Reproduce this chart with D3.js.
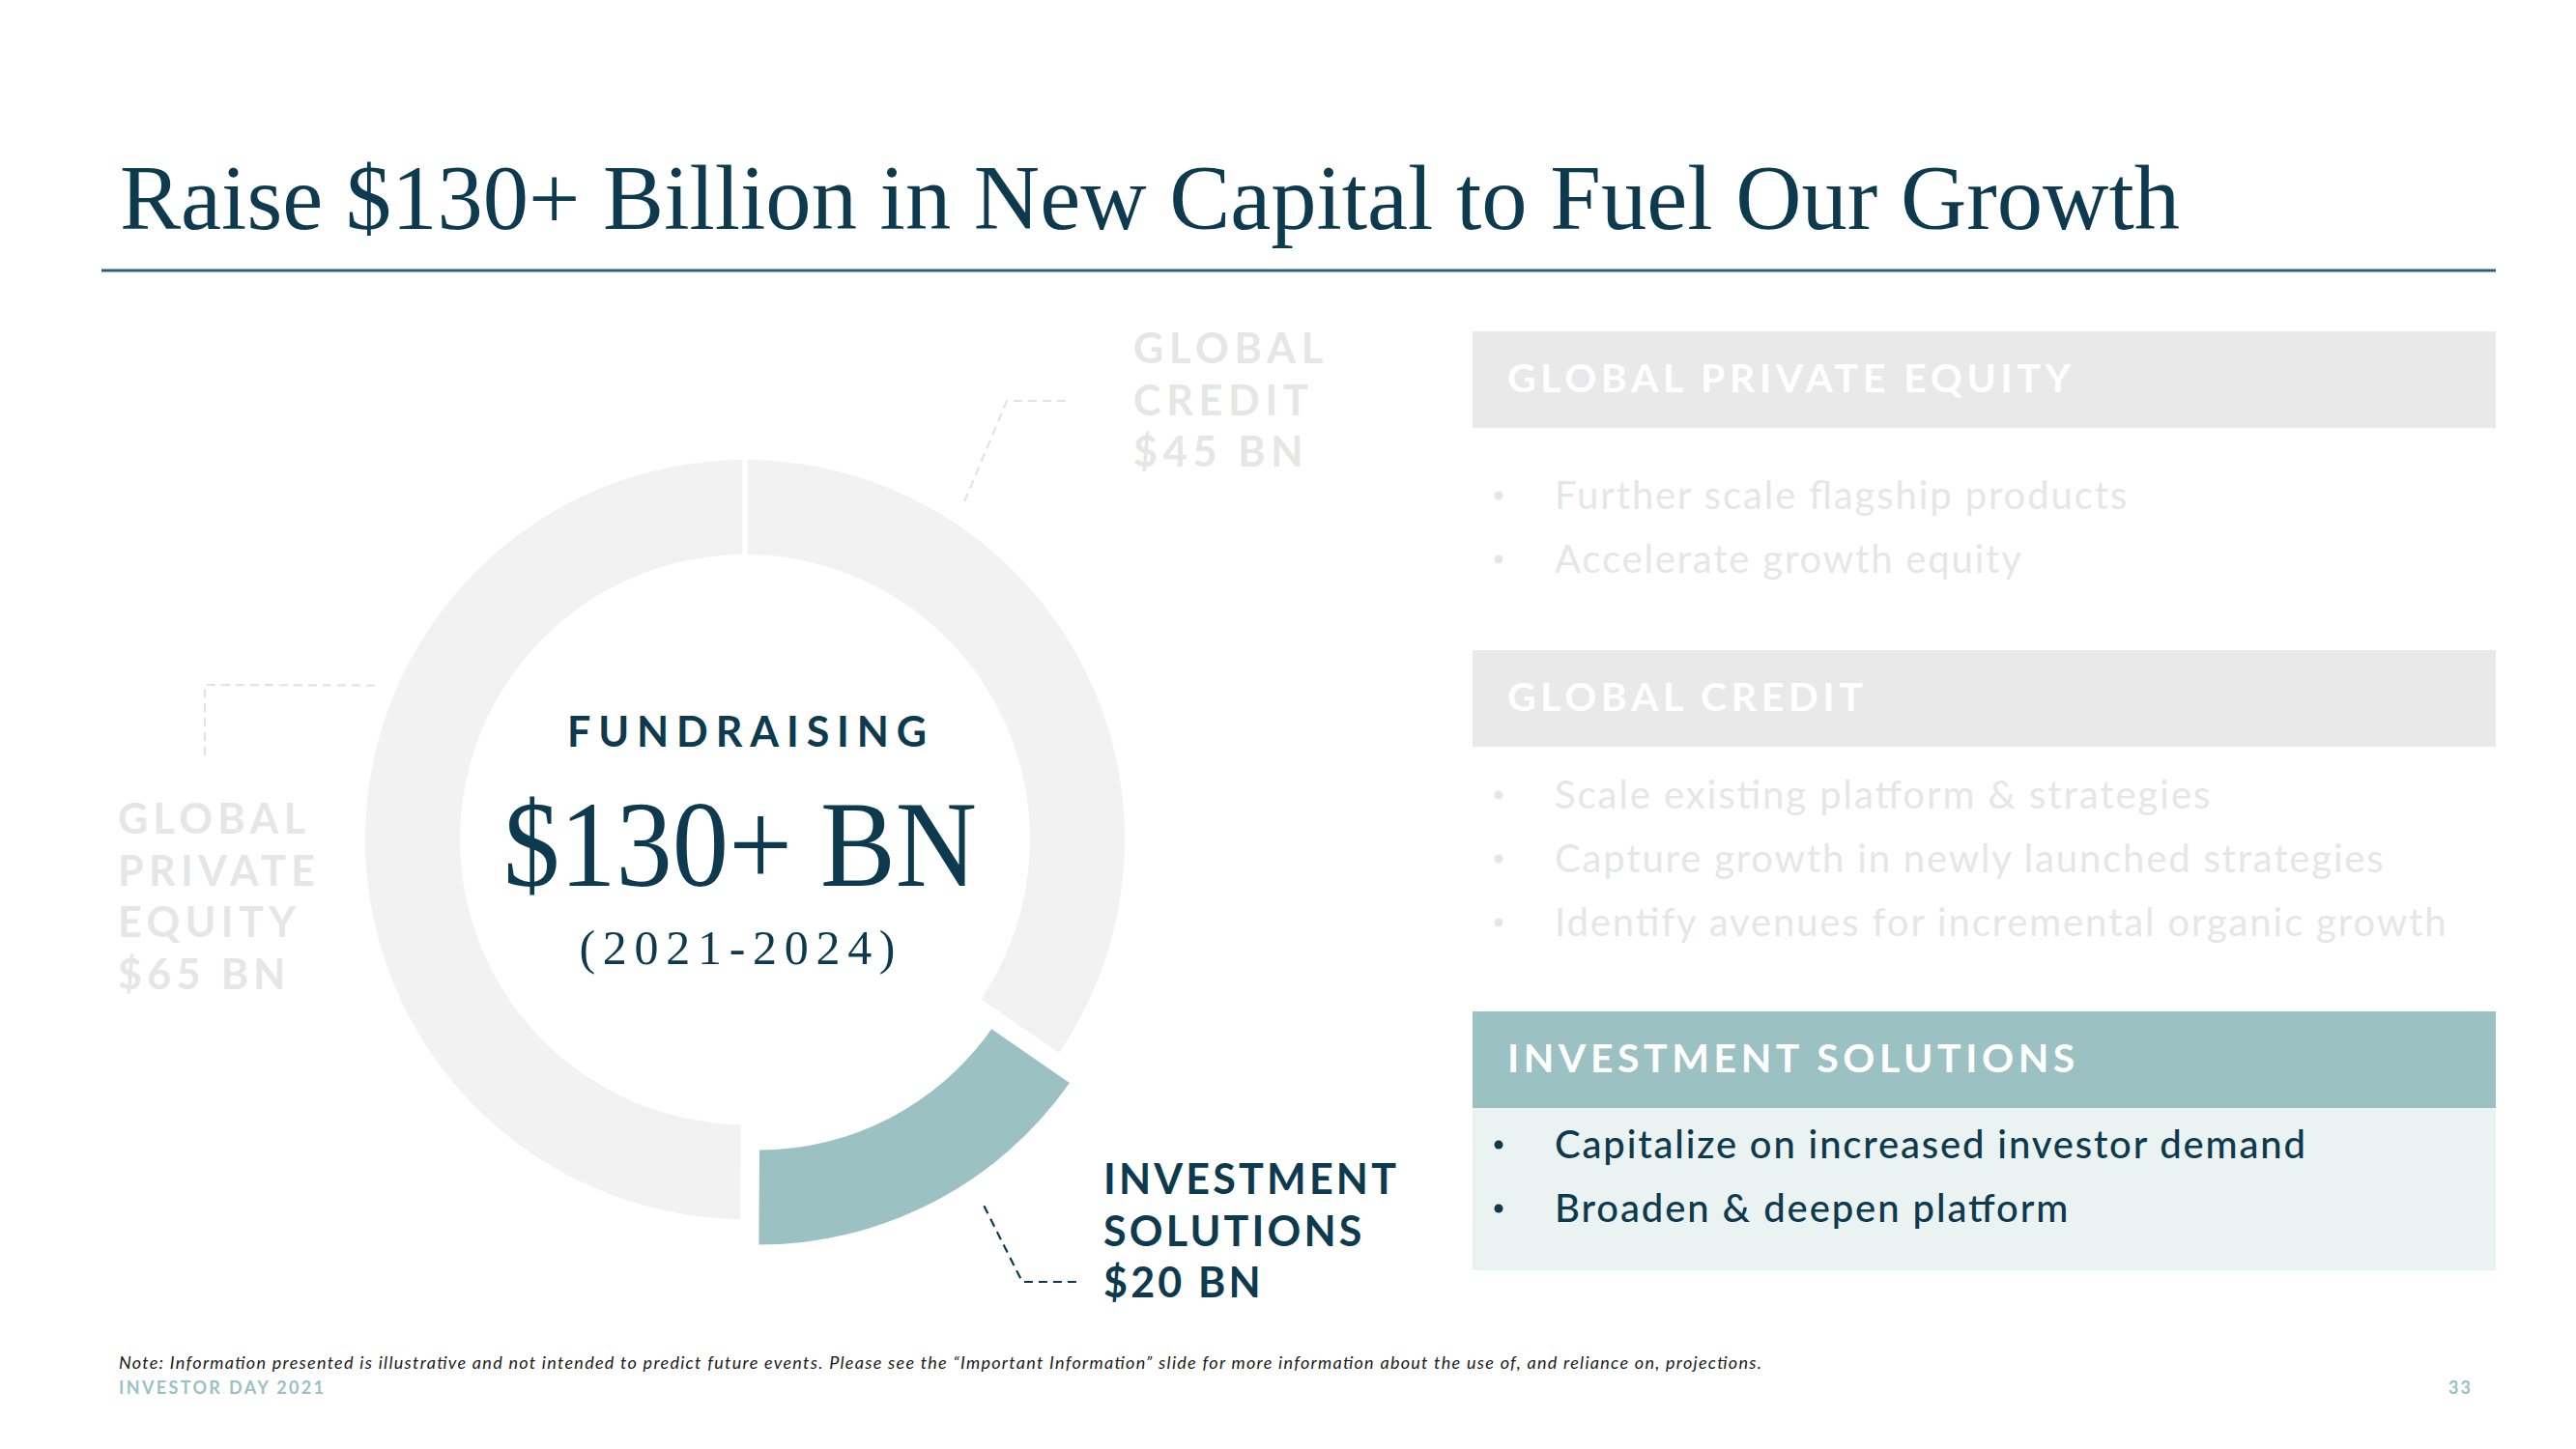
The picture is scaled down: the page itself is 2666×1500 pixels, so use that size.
<!DOCTYPE html>
<html><head><meta charset="utf-8">
<script src="https://cdn.jsdelivr.net/npm/d3@7"></script>
<style>
html,body{margin:0;padding:0;background:#fff;}
svg{display:block;}
</style></head>
<body>
<svg id="chart" width="2666" height="1500"></svg>
<script>
// ---------- data ----------
const title = "Raise $130+ Billion in New Capital to Fuel Our Growth";
const segments = ["Global Credit", "Investment Solutions", "Global Private Equity"];
const values = [45, 20, 65];
const highlighted = "Investment Solutions";
const segmentLabels = [
  ["GLOBAL", "CREDIT", "$45 BN"],
  ["INVESTMENT", "SOLUTIONS", "$20 BN"],
  ["GLOBAL", "PRIVATE", "EQUITY", "$65 BN"]
];
const centerLines = ["FUNDRAISING", "$130+ BN", "(2021-2024)"];
const panelTitles = ["GLOBAL PRIVATE EQUITY", "GLOBAL CREDIT", "INVESTMENT SOLUTIONS"];
const panelSegments = ["Global Private Equity", "Global Credit", "Investment Solutions"];
const panelBullets = [
  ["Further scale flagship products", "Accelerate growth equity"],
  ["Scale existing platform & strategies", "Capture growth in newly launched strategies", "Identify avenues for incremental organic growth"],
  ["Capitalize on increased investor demand", "Broaden & deepen platform"]
];
const note = "Note: Information presented is illustrative and not intended to predict future events. Please see the \u201cImportant Information\u201d slide for more information about the use of, and reliance on, projections.";
const footerLeft = "INVESTOR DAY 2021";
const pageNumber = "33";

// ---------- styles / layout ----------
const C = {
  navy: "#0d3a4e", ring: "#f2f2f2", teal: "#9bc1c2", faint: "#e6e6e6",
  panelGray: "#e9e9e9", panelBody: "#eaf2f2", rule: "#2c6371", note: "#1a1a1a"
};
const SANS = "Lato, 'Noto Sans', sans-serif";
const SERIF = "'Liberation Serif', 'DejaVu Serif', serif";
const cx = 771, cy = 869, R = 393, r = 295, explode = 30;

const svg = d3.select("#chart");

function fitSpacing(sel, target) {
  const node = sel.node();
  const w = node.getComputedTextLength();
  const n = node.textContent.length;
  return (target - w) / Math.max(1, n - 1);
}
function applySpacing(sel, s) {
  sel.each(function () {
    const w = this.getComputedTextLength();
    const n = this.textContent.length;
    d3.select(this).attr("textLength", w + s * (n - 1)).attr("lengthAdjust", "spacing");
  });
}

// ---------- title ----------
svg.append("text").attr("x", 124).attr("y", 237)
  .attr("font-family", SERIF).attr("font-size", 96).attr("fill", C.navy)
  .attr("textLength", 2132).attr("lengthAdjust", "spacingAndGlyphs")
  .text(title);
svg.append("line").attr("x1", 105).attr("x2", 2583).attr("y1", 280).attr("y2", 280)
  .attr("stroke", C.rule).attr("stroke-width", 3);

// ---------- donut ----------
const pie = d3.pie().sort(null).value(d => d).padAngle(0.011);
const arcs = pie(values);
const arc = d3.arc().innerRadius(r).outerRadius(R);
const g = svg.append("g").attr("transform", `translate(${cx},${cy})`);
g.selectAll("path.slice").data(arcs).join("path")
  .attr("class", "slice")
  .attr("d", arc)
  .attr("fill", (d, i) => segments[i] === highlighted ? C.teal : C.ring)
  .attr("transform", (d, i) => {
    if (segments[i] !== highlighted) return null;
    const mid = (d.startAngle + d.endAngle) / 2;
    const [dx, dy] = d3.pointRadial(mid, explode);
    return `translate(${dx},${dy})`;
  });

// center text
g.append("text").attr("x", 2).attr("y", -96).attr("text-anchor", "middle")
  .attr("font-family", SANS).attr("font-weight", 700).attr("font-size", 43).attr("fill", C.navy)
  .attr("textLength", 372).attr("lengthAdjust", "spacing")
  .text(centerLines[0]);
g.append("text").attr("x", -5).attr("y", 48).attr("text-anchor", "middle")
  .attr("font-family", SERIF).attr("font-size", 128).attr("fill", C.navy)
  .attr("textLength", 490).attr("lengthAdjust", "spacingAndGlyphs")
  .text(centerLines[1]);
g.append("text").attr("x", -8).attr("y", 129).attr("text-anchor", "middle")
  .attr("font-family", SERIF).attr("font-size", 50).attr("fill", C.navy)
  .attr("textLength", 327).attr("lengthAdjust", "spacing")
  .text(centerLines[2]);

// ---------- segment labels & leaders ----------
const labelCfg = {
  "Global Credit": { x: 1173, y: 376, ref: 196 },
  "Investment Solutions": { x: 1142, y: 1236, ref: 303 },
  "Global Private Equity": { x: 122, y: 863, ref: 194 }
};
const lineGap = 53.5;
segments.forEach((s, i) => {
  const cfg = labelCfg[s];
  const on = s === highlighted;
  const t = svg.append("g").selectAll("text").data(segmentLabels[i]).join("text")
    .attr("x", cfg.x).attr("y", (d, k) => cfg.y + k * lineGap)
    .attr("font-family", SANS).attr("font-weight", 700).attr("font-size", 43)
    .attr("fill", on ? C.navy : C.faint)
    .text(d => d);
  const sp = fitSpacing(t.filter((d, k) => k === 0), cfg.ref);
  applySpacing(t, sp);
});

// leaders: anchor on ring (angle in degrees, radius), then elbow and end
const leaderCfg = {
  "Global Credit": { angle: 33, rad: R + 24, pts: [[1042, 415], [1106, 415]] },
  "Investment Solutions": { angle: 146.5, rad: R + 30, pts: [[1058, 1327], [1116, 1327]] },
  "Global Private Equity": { angle: 292.6, rad: R + 22, pts: [[212, 709], [212, 788]] }
};
segments.forEach((s, i) => {
  const cfg = leaderCfg[s];
  const on = s === highlighted;
  let ox = cx, oy = cy;
  if (on) {
    const mid = (arcs[i].startAngle + arcs[i].endAngle) / 2;
    const [dx, dy] = d3.pointRadial(mid, explode);
    ox += dx; oy += dy;
  }
  const [ax, ay] = d3.pointRadial(cfg.angle * Math.PI / 180, cfg.rad);
  const pts = [[ox + ax, oy + ay], ...cfg.pts];
  svg.append("path").attr("d", d3.line()(pts))
    .attr("fill", "none").attr("stroke", on ? C.navy : "#e3e3e3")
    .attr("stroke-width", 2.2).attr("stroke-dasharray", "9,6");
});

// ---------- right panels ----------
const panelX = 1524, panelW = 1059, headH = 100;
const panelTops = [343, 673, 1047];
const bulletStart = [84, 64, 52];
const bulletStep = 66;
const headTexts = [], bulletTexts = [];
panelTitles.forEach((pt, i) => {
  const on = panelSegments[i] === highlighted;
  const top = panelTops[i];
  const pg = svg.append("g");
  if (on) {
    pg.append("rect").attr("x", panelX).attr("y", top + headH).attr("width", panelW)
      .attr("height", 168).attr("fill", C.panelBody);
  }
  pg.append("rect").attr("x", panelX).attr("y", top).attr("width", panelW).attr("height", headH)
    .attr("fill", on ? C.teal : C.panelGray);
  const ht = pg.append("text").attr("x", 1560).attr("y", top + 63)
    .attr("font-family", SANS).attr("font-weight", 700).attr("font-size", 41).attr("fill", "#fff")
    .text(pt);
  headTexts.push(ht);
  const bg = pg.append("g");
  panelBullets[i].forEach((b, k) => {
    const y = top + headH + bulletStart[i] + k * bulletStep;
    bg.append("circle").attr("cx", 1551).attr("cy", y - 14).attr("r", 4.5)
      .attr("fill", on ? C.navy : C.faint);
    const bt = bg.append("text").attr("x", 1609).attr("y", y)
      .attr("font-family", SANS).attr("font-weight", on ? 500 : 400).attr("font-size", 40)
      .attr("fill", on ? C.navy : C.faint).text(b);
    bulletTexts.push(bt);
  });
});
const headSpacing = fitSpacing(headTexts[0], 583);
headTexts.forEach(t => applySpacing(t, headSpacing));
const bulletSpacing = fitSpacing(bulletTexts[5], 777);
bulletTexts.forEach(t => applySpacing(t, bulletSpacing));

// ---------- footer ----------
const nt = svg.append("text").attr("x", 123).attr("y", 1417)
  .attr("font-family", SANS).attr("font-style", "italic").attr("font-size", 18).attr("fill", C.note)
  .text(note);
applySpacing(nt, fitSpacing(nt, 1700));
const ft = svg.append("text").attr("x", 123).attr("y", 1443)
  .attr("font-family", SANS).attr("font-weight", 700).attr("font-size", 18).attr("fill", C.teal)
  .text(footerLeft);
applySpacing(ft, fitSpacing(ft, 212));
svg.append("text").attr("x", 2559).attr("y", 1443).attr("text-anchor", "end")
  .attr("font-family", SANS).attr("font-weight", 700).attr("font-size", 18).attr("fill", C.teal)
  .attr("letter-spacing", 2)
  .text(pageNumber);
</script>
</body></html>
